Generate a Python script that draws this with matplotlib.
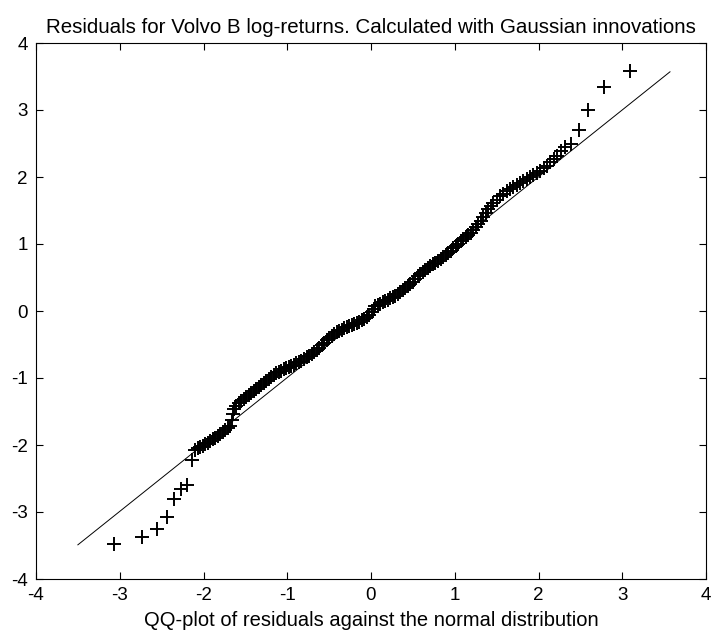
import matplotlib
matplotlib.use("Agg")
import matplotlib.pyplot as plt

# sorted residuals (y) against standard normal quantiles (x)
qx = [-3.07, -2.73, -2.55, -2.44, -2.35, -2.27, -2.20, -2.14,
      -2.10, -2.07, -2.04, -2.01, -1.98, -1.95, -1.92, -1.89, -1.86, -1.83,
      -1.80, -1.77, -1.74, -1.71, -1.68, -1.66, -1.65, -1.63, -1.61, -1.58,
      -1.55, -1.52, -1.49, -1.46, -1.43, -1.40, -1.37, -1.34, -1.31, -1.28,
      -1.25, -1.22, -1.19, -1.16, -1.13, -1.10, -1.07, -1.04, -1.01, -0.98,
      -0.95, -0.92, -0.89, -0.86, -0.83, -0.80, -0.77, -0.74, -0.71, -0.68,
      -0.65, -0.62, -0.59, -0.56, -0.53, -0.50, -0.47, -0.44, -0.41, -0.38,
      -0.35, -0.32, -0.29, -0.26, -0.23, -0.20, -0.17, -0.14, -0.11, -0.08,
      -0.05, -0.02, 0.01, 0.03, 0.05, 0.08, 0.11, 0.14, 0.17, 0.20,
      0.23, 0.26, 0.29, 0.32, 0.35, 0.38, 0.41, 0.44, 0.47, 0.50,
      0.53, 0.56, 0.59, 0.62, 0.65, 0.68, 0.71, 0.74, 0.77, 0.80,
      0.83, 0.86, 0.89, 0.92, 0.95, 0.98, 1.01, 1.04, 1.07, 1.10,
      1.13, 1.16, 1.19, 1.22, 1.25, 1.28, 1.31, 1.34, 1.37, 1.40,
      1.43, 1.46, 1.50, 1.54, 1.58, 1.62, 1.66, 1.70, 1.74, 1.78,
      1.82, 1.86, 1.90, 1.94, 1.98, 2.02, 2.06, 2.10, 2.14, 2.18,
      2.22, 2.27, 2.32, 2.39, 2.48, 2.59, 2.78, 3.09]
qy = [-3.48, -3.38, -3.26, -3.08, -2.80, -2.66, -2.60, -2.23,
      -2.08, -2.05, -2.03, -2.01, -1.99, -1.97, -1.94, -1.91, -1.89, -1.86,
      -1.83, -1.80, -1.78, -1.75, -1.71, -1.62, -1.53, -1.47, -1.42, -1.38,
      -1.34, -1.31, -1.28, -1.25, -1.22, -1.20, -1.17, -1.14, -1.11, -1.08,
      -1.05, -1.01, -0.98, -0.96, -0.93, -0.91, -0.89, -0.87, -0.85, -0.84,
      -0.82, -0.80, -0.78, -0.76, -0.74, -0.72, -0.69, -0.67, -0.64, -0.61,
      -0.58, -0.55, -0.51, -0.48, -0.44, -0.41, -0.38, -0.35, -0.32, -0.30,
      -0.28, -0.26, -0.24, -0.22, -0.21, -0.19, -0.18, -0.16, -0.14, -0.12,
      -0.09, -0.06, -0.02, 0.03, 0.07, 0.09, 0.11, 0.13, 0.15, 0.17,
      0.19, 0.21, 0.23, 0.26, 0.28, 0.31, 0.34, 0.37, 0.40, 0.44,
      0.48, 0.52, 0.55, 0.58, 0.61, 0.64, 0.67, 0.70, 0.72, 0.75,
      0.78, 0.81, 0.84, 0.87, 0.90, 0.94, 0.97, 1.00, 1.04, 1.07,
      1.10, 1.14, 1.17, 1.21, 1.25, 1.30, 1.35, 1.41, 1.47, 1.52,
      1.57, 1.61, 1.66, 1.71, 1.75, 1.79, 1.82, 1.85, 1.88, 1.91,
      1.94, 1.97, 2.00, 2.03, 2.06, 2.09, 2.13, 2.17, 2.22, 2.27,
      2.32, 2.39, 2.45, 2.50, 2.70, 3.00, 3.34, 3.58]

# reference line end points
lineX = [-3.50, 3.57]
lineY = [-3.49, 3.57]

ticks = [-4, -3, -2, -1, 0, 1, 2, 3, 4]

plt.rcParams['font.family'] = ['Liberation Sans', 'DejaVu Sans']
plt.rcParams['axes.unicode_minus'] = False

fig = plt.figure(figsize=(7.13, 6.34), dpi=100)
ax = fig.add_axes([36/713, 55/634, 670/713, 536/634])

ax.plot(lineX, lineY, color='k', linewidth=0.7)
ax.plot(qx, qy, '+', color='k', markersize=10, markeredgewidth=1.4)

ax.set_xlim(-4, 4)
ax.set_ylim(-4, 4)
ax.set_xticks(ticks)
ax.set_yticks(ticks)
ax.tick_params(direction='in', length=5, width=0.8, top=True, right=True,
               labelsize=13.5, pad=6)
for s in ax.spines.values():
    s.set_linewidth(0.8)

ax.set_title("Residuals for Volvo B log-returns. Calculated with Gaussian innovations",
             fontsize=14.8, pad=7)
ax.set_xlabel("QQ-plot of residuals against the normal distribution", fontsize=14.5, labelpad=5)

fig.savefig("out.png", dpi=100)
